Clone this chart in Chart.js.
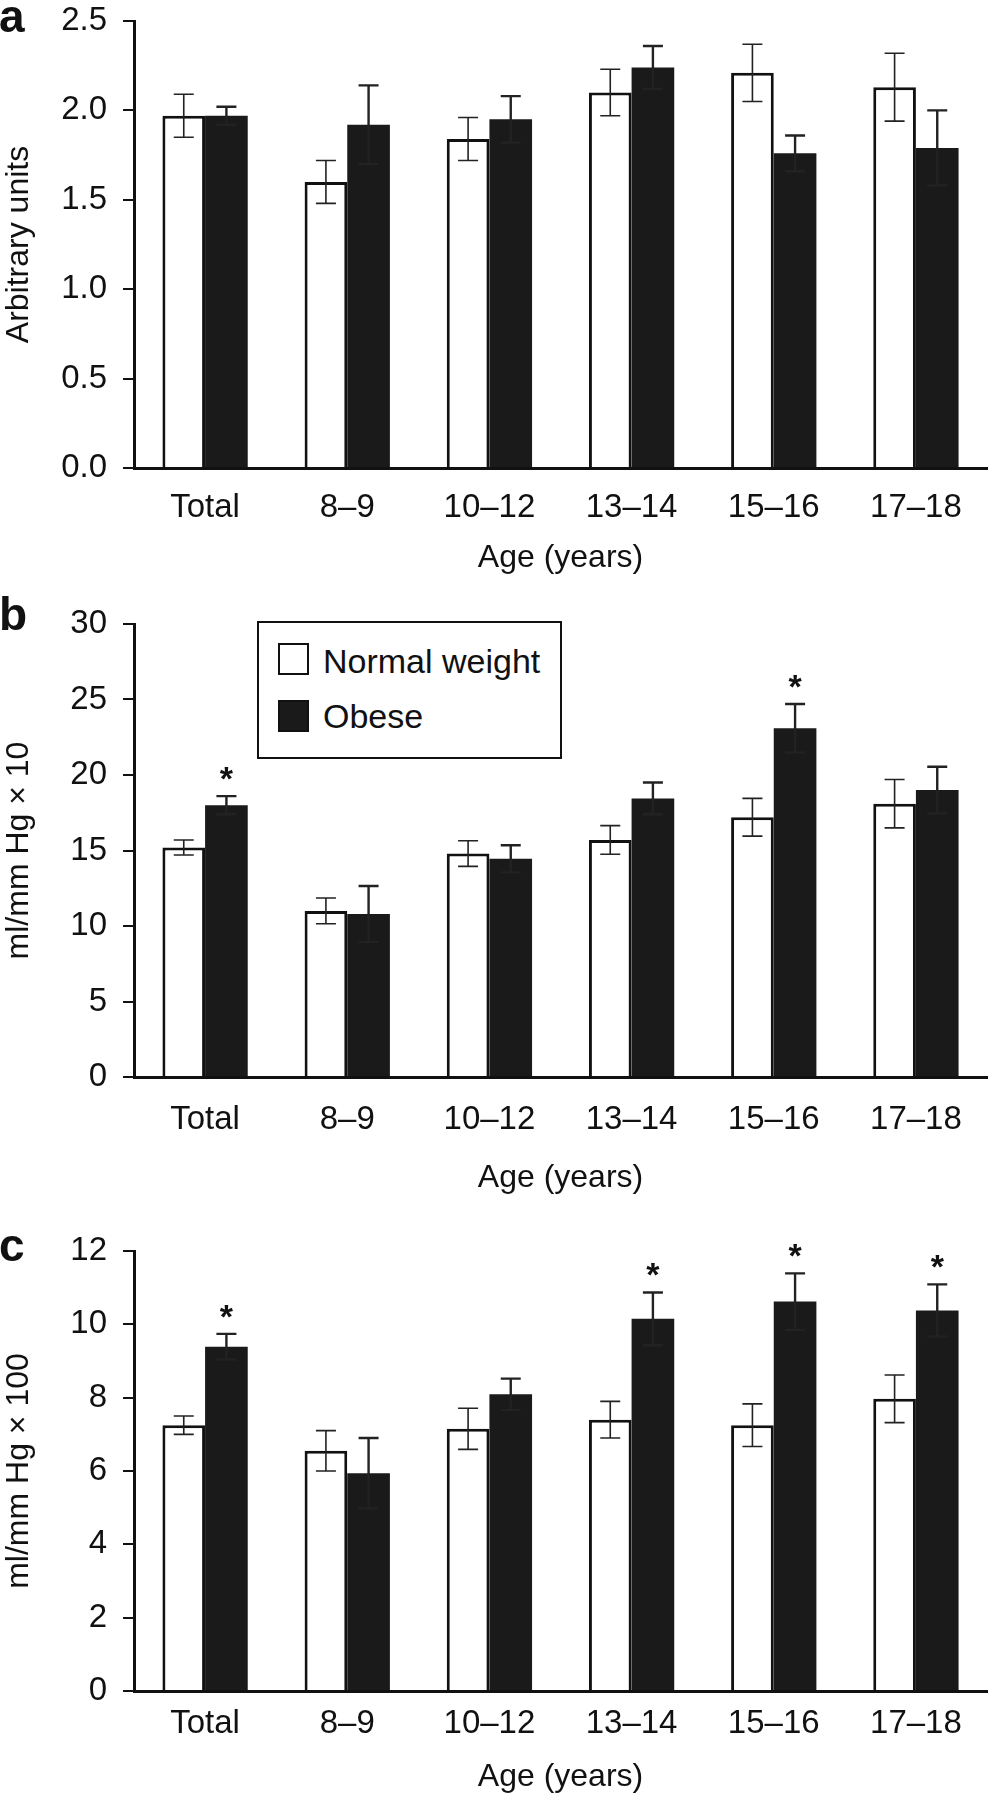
<!DOCTYPE html>
<html lang="en">
<head>
  <meta charset="UTF-8">
  <title>Arterial compliance, normal weight vs obese</title>
  <script src="https://cdn.jsdelivr.net/npm/chart.js"></script>
  <style>
    body { margin: 0; background: #fff; overflow: hidden; }
    #page { position: relative; width: 991px; height: 1800px; overflow: hidden; font-family: 'Liberation Sans', Arial, Helvetica, sans-serif; color: #111; }
    #page canvas { position: absolute; left: 0; }
    #legend { position: absolute; left: 257px; top: 621px; width: 305px; height: 138px; box-sizing: border-box; border: 2px solid #111; background: #fff; }
    #legend .sw { position: absolute; left: 19px; width: 31px; height: 32px; box-sizing: border-box; border: 2.5px solid #111; }
    #legend .txt { position: absolute; left: 64px; font-size: 34px; line-height: 1; white-space: nowrap; }
  </style>
</head>
<body>
<div id="page">
  <canvas id="chartA" width="991" height="603" style="top:-15px;width:991px;height:603px"></canvas>
  <canvas id="chartB" width="991" height="612" style="top:588px;width:991px;height:612px"></canvas>
  <canvas id="chartC" width="991" height="600" style="top:1200px;width:991px;height:600px"></canvas>
  <div id="legend"></div>
</div>
<script>
  const ageGroups = ['Total', '8–9', '10–12', '13–14', '15–16', '17–18'];
  const seriesNames = ['Normal weight', 'Obese'];

  // panel a - arbitrary units
  const normalA = [1.97, 1.60, 1.84, 2.10, 2.21, 2.13];
  const normalErrA = [0.12, 0.12, 0.12, 0.13, 0.16, 0.19];
  const obeseA = [1.97, 1.92, 1.95, 2.24, 1.76, 1.79];
  const obeseErrA = [0.05, 0.22, 0.13, 0.12, 0.10, 0.21];
  const starsA = [0, 0, 0, 0, 0, 0];
  const yTicksA = [0, 0.5, 1.0, 1.5, 2.0, 2.5];

  // panel b - ml/mm Hg x 10
  const normalB = [15.2, 11.0, 14.8, 15.7, 17.2, 18.1];
  const normalErrB = [0.5, 0.85, 0.85, 0.95, 1.25, 1.6];
  const obeseB = [18.0, 10.8, 14.45, 18.45, 23.1, 19.0];
  const obeseErrB = [0.6, 1.85, 0.9, 1.05, 1.6, 1.55];
  const starsB = [1, 0, 0, 0, 1, 0];
  const yTicksB = [0, 5, 10, 15, 20, 25, 30];

  // panel c - ml/mm Hg x 100
  const normalC = [7.25, 6.55, 7.15, 7.4, 7.25, 7.97];
  const normalErrC = [0.25, 0.55, 0.56, 0.5, 0.58, 0.65];
  const obeseC = [9.39, 5.94, 8.09, 10.15, 10.62, 10.38];
  const obeseErrC = [0.35, 0.96, 0.43, 0.72, 0.77, 0.71];
  const starsC = [1, 0, 0, 1, 1, 1];
  const yTicksC = [0, 2, 4, 6, 8, 10, 12];

  Chart.defaults.font.family = "'Liberation Sans', Arial, Helvetica, sans-serif";
  Chart.defaults.color = '#111';

  // error bars (+ significance stars) on top of the bars
  const errorBars = {
    id: 'errorBars',
    afterDatasetsDraw(chart) {
      const ctx = chart.ctx;
      const y = chart.scales.y;
      chart.data.datasets.forEach((ds, i) => {
        chart.getDatasetMeta(i).data.forEach((bar, j) => {
          const top = y.getPixelForValue(ds.data[j] + ds.errors[j]);
          const bot = y.getPixelForValue(ds.data[j] - ds.errors[j]);
          ctx.save();
          ctx.strokeStyle = '#222';
          ctx.lineWidth = ds.errWidth;
          ctx.beginPath();
          ctx.moveTo(bar.x, top); ctx.lineTo(bar.x, bot);
          ctx.moveTo(bar.x - 10, top); ctx.lineTo(bar.x + 10, top);
          ctx.moveTo(bar.x - 10, bot); ctx.lineTo(bar.x + 10, bot);
          ctx.stroke();
          if (ds.stars && ds.stars[j]) {
            ctx.fillStyle = '#111';
            ctx.font = "bold 34px 'Liberation Sans', Arial, sans-serif";
            ctx.textAlign = 'center';
            ctx.textBaseline = 'alphabetic';
            ctx.fillText('*', bar.x, top - 6);
          }
          ctx.restore();
        });
      });
    }
  };

  // bold panel letter in the top left corner
  const panelTag = {
    id: 'panelTag',
    afterDraw(chart, args, opts) {
      const ctx = chart.ctx;
      ctx.save();
      ctx.fillStyle = '#111';
      ctx.font = "bold 46px 'Liberation Sans', Arial, sans-serif";
      ctx.textAlign = 'left';
      ctx.textBaseline = 'alphabetic';
      ctx.fillText(opts.text, -1, opts.y);
      ctx.restore();
    }
  };

  function makePanel(id, p) {
    return new Chart(document.getElementById(id), {
      type: 'bar',
      data: {
        labels: ageGroups,
        datasets: [
          { label: seriesNames[0], data: p.normal, errors: p.normalErr, errWidth: 1.6,
            backgroundColor: '#fff', borderColor: '#111', borderWidth: 3 },
          { label: seriesNames[1], data: p.obese, errors: p.obeseErr, stars: p.stars, errWidth: 2.4,
            backgroundColor: '#1a1a1a', borderWidth: 0 }
        ]
      },
      options: {
        responsive: false,
        animation: false,
        datasets: { bar: { categoryPercentage: 0.6, barPercentage: 1.0 } },
        layout: { padding: { top: p.top, right: 4, left: 0, bottom: 0 } },
        plugins: {
          legend: { display: false },
          tooltip: { enabled: false },
          panelTag: { text: p.tag, y: p.tagY }
        },
        scales: {
          x: {
            grid: { display: false, drawTicks: false },
            border: { color: '#111', width: 3 },
            ticks: { font: { size: 33 }, padding: p.xPad },
            title: { display: true, text: 'Age (years)', font: { size: 32 }, padding: { top: 0, bottom: p.titlePad } },
            afterFit: s => { s.height = p.xHeight; }
          },
          y: {
            min: p.yTicks[0],
            max: p.yTicks[p.yTicks.length - 1],
            afterBuildTicks: s => { s.ticks = p.yTicks.map(v => ({ value: v })); },
            grid: { drawOnChartArea: false, color: '#111', lineWidth: 2, tickLength: 11 },
            border: { color: '#111', width: 3 },
            ticks: { font: { size: 33 }, padding: 16, callback: v => v.toFixed(p.decimals) },
            title: { display: true, text: p.yTitle, font: { size: 32 }, padding: { top: 0, bottom: 0 } },
            afterFit: s => { s.width = 134; }
          }
        }
      },
      plugins: [errorBars, panelTag]
    });
  }

  makePanel('chartA', {
    normal: normalA, normalErr: normalErrA, obese: obeseA, obeseErr: obeseErrA, stars: starsA,
    yTicks: yTicksA, decimals: 1, yTitle: 'Arbitrary units', tag: 'a', tagY: 47,
    top: 36, xHeight: 120, xPad: 20, titlePad: 11
  });
  makePanel('chartB', {
    normal: normalB, normalErr: normalErrB, obese: obeseB, obeseErr: obeseErrB, stars: starsB,
    yTicks: yTicksB, decimals: 0, yTitle: 'ml/mm Hg × 10', tag: 'b', tagY: 42,
    top: 36, xHeight: 123, xPad: 23, titlePad: 3
  });
  makePanel('chartC', {
    normal: normalC, normalErr: normalErrC, obese: obeseC, obeseErr: obeseErrC, stars: starsC,
    yTicks: yTicksC, decimals: 0, yTitle: 'ml/mm Hg × 100', tag: 'c', tagY: 61,
    top: 51, xHeight: 109, xPad: 13, titlePad: 4
  });

  // legend box of panel b
  const legend = document.getElementById('legend');
  const swatchFill = ['#fff', '#1a1a1a'];
  const swatchTop = [20, 77];
  const textTop = [21, 76];
  seriesNames.forEach((name, i) => {
    const sw = document.createElement('div');
    sw.className = 'sw';
    sw.style.top = swatchTop[i] + 'px';
    sw.style.background = swatchFill[i];
    legend.appendChild(sw);
    const t = document.createElement('div');
    t.className = 'txt';
    t.style.top = textTop[i] + 'px';
    t.textContent = name;
    legend.appendChild(t);
  });
</script>
</body>
</html>
